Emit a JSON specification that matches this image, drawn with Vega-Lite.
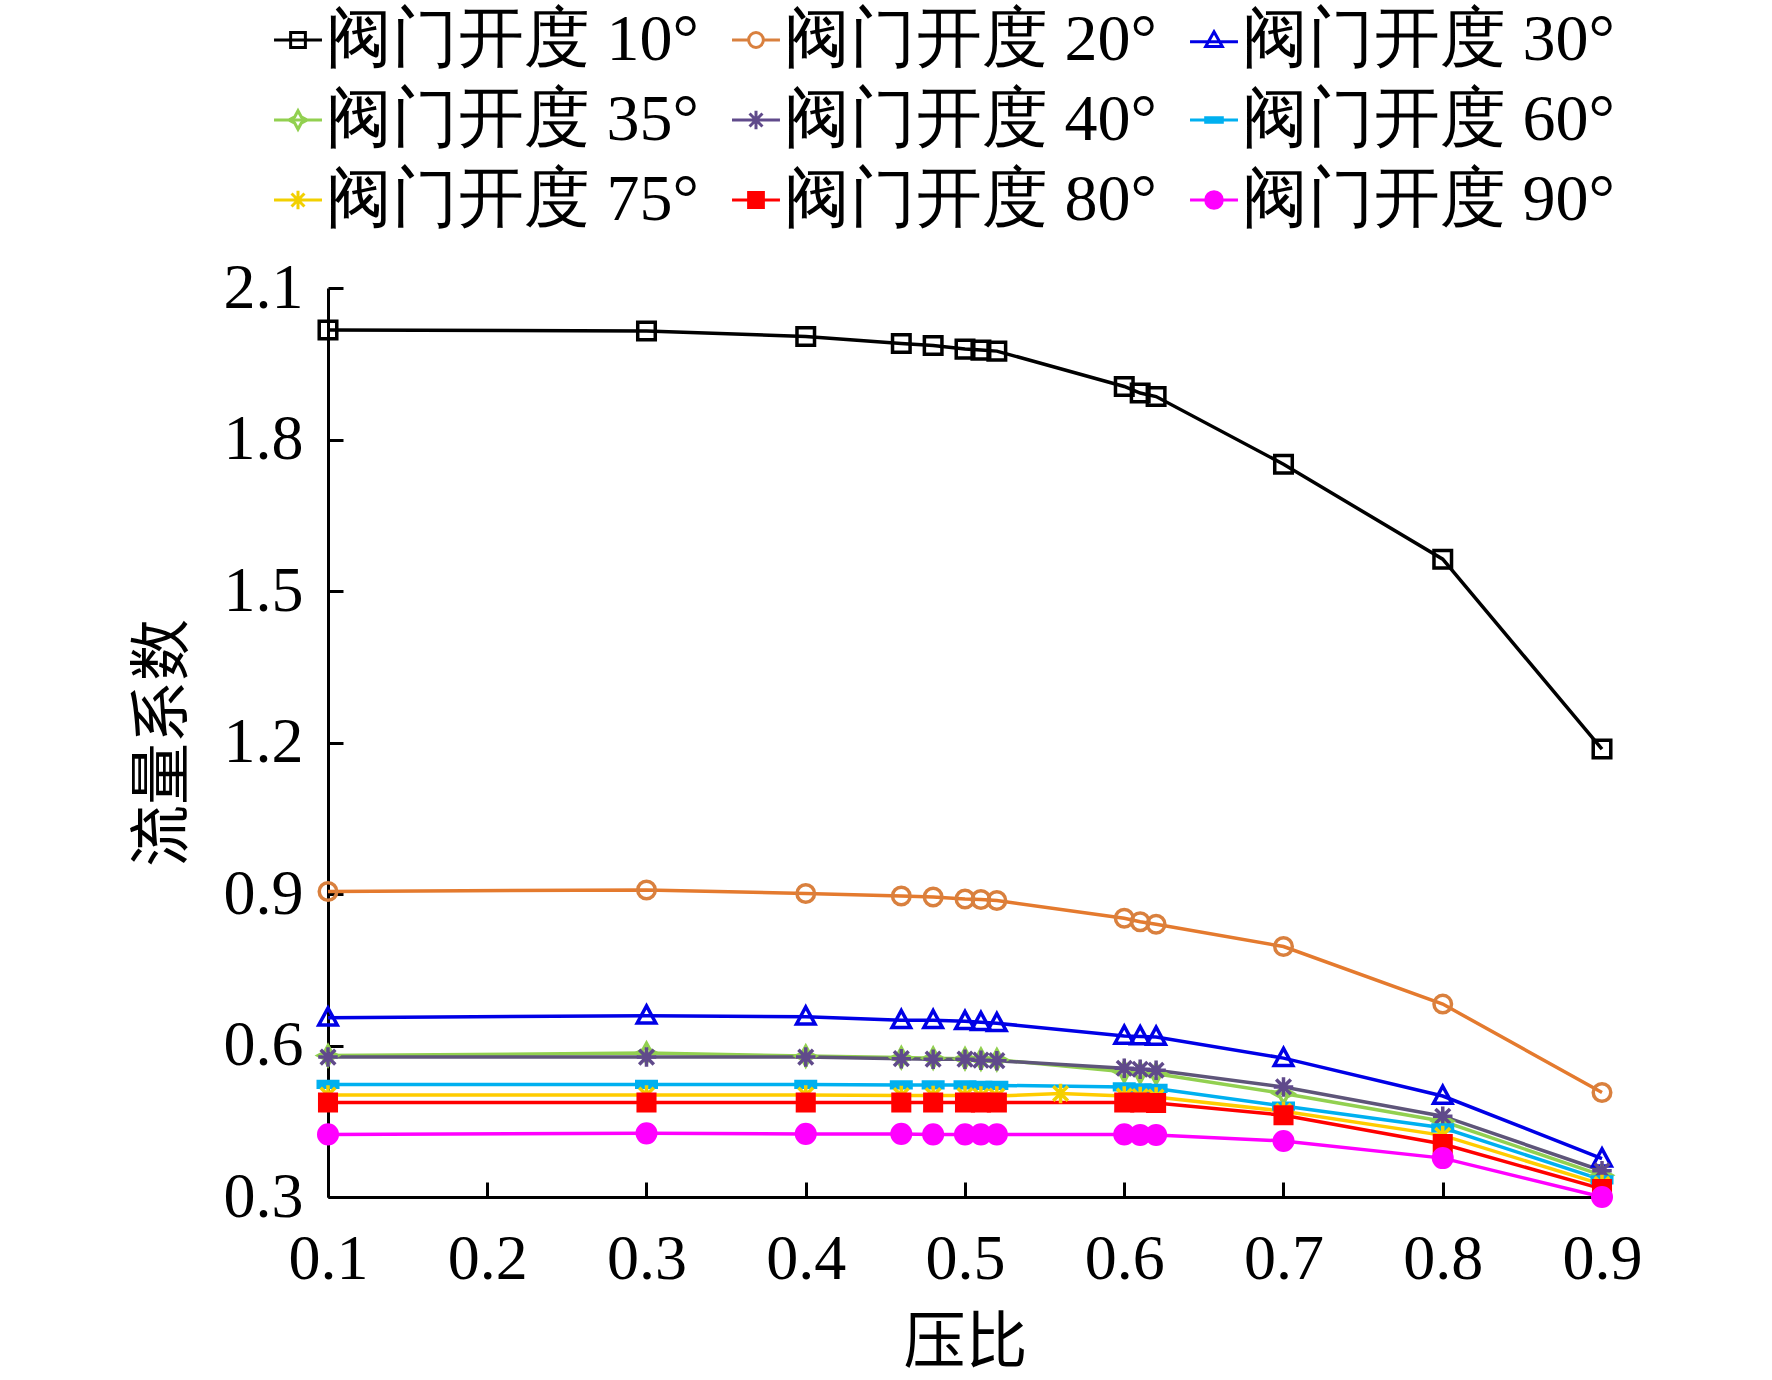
{
  "$schema": "https://vega.github.io/schema/vega-lite/v6.json",
  "autosize": "none",
  "padding": {"left": 328, "top": 288, "right": 170, "bottom": 183},
  "width": 1274,
  "height": 909,
  "background": "white",
  "data": {
    "values": [
      {"series": "阀门开度 10°", "x": 0.1, "y": 2.017},
      {"series": "阀门开度 10°", "x": 0.3, "y": 2.015},
      {"series": "阀门开度 10°", "x": 0.4, "y": 2.004},
      {"series": "阀门开度 10°", "x": 0.46, "y": 1.99},
      {"series": "阀门开度 10°", "x": 0.48, "y": 1.986},
      {"series": "阀门开度 10°", "x": 0.5, "y": 1.979},
      {"series": "阀门开度 10°", "x": 0.51, "y": 1.977},
      {"series": "阀门开度 10°", "x": 0.52, "y": 1.975},
      {"series": "阀门开度 10°", "x": 0.6, "y": 1.905},
      {"series": "阀门开度 10°", "x": 0.61, "y": 1.892},
      {"series": "阀门开度 10°", "x": 0.62, "y": 1.885},
      {"series": "阀门开度 10°", "x": 0.7, "y": 1.751},
      {"series": "阀门开度 10°", "x": 0.8, "y": 1.563},
      {"series": "阀门开度 10°", "x": 0.9, "y": 1.187},

      {"series": "阀门开度 20°", "x": 0.1, "y": 0.905},
      {"series": "阀门开度 20°", "x": 0.3, "y": 0.908},
      {"series": "阀门开度 20°", "x": 0.4, "y": 0.901},
      {"series": "阀门开度 20°", "x": 0.46, "y": 0.896},
      {"series": "阀门开度 20°", "x": 0.48, "y": 0.894},
      {"series": "阀门开度 20°", "x": 0.5, "y": 0.89},
      {"series": "阀门开度 20°", "x": 0.51, "y": 0.889},
      {"series": "阀门开度 20°", "x": 0.52, "y": 0.887},
      {"series": "阀门开度 20°", "x": 0.6, "y": 0.852},
      {"series": "阀门开度 20°", "x": 0.61, "y": 0.845},
      {"series": "阀门开度 20°", "x": 0.62, "y": 0.84},
      {"series": "阀门开度 20°", "x": 0.7, "y": 0.796},
      {"series": "阀门开度 20°", "x": 0.8, "y": 0.682},
      {"series": "阀门开度 20°", "x": 0.9, "y": 0.507},

      {"series": "阀门开度 30°", "x": 0.1, "y": 0.655},
      {"series": "阀门开度 30°", "x": 0.3, "y": 0.659},
      {"series": "阀门开度 30°", "x": 0.4, "y": 0.657},
      {"series": "阀门开度 30°", "x": 0.46, "y": 0.65},
      {"series": "阀门开度 30°", "x": 0.48, "y": 0.65},
      {"series": "阀门开度 30°", "x": 0.5, "y": 0.648},
      {"series": "阀门开度 30°", "x": 0.51, "y": 0.646},
      {"series": "阀门开度 30°", "x": 0.52, "y": 0.644},
      {"series": "阀门开度 30°", "x": 0.6, "y": 0.619},
      {"series": "阀门开度 30°", "x": 0.61, "y": 0.618},
      {"series": "阀门开度 30°", "x": 0.62, "y": 0.617},
      {"series": "阀门开度 30°", "x": 0.7, "y": 0.575},
      {"series": "阀门开度 30°", "x": 0.8, "y": 0.5},
      {"series": "阀门开度 30°", "x": 0.9, "y": 0.376},

      {"series": "阀门开度 35°", "x": 0.1, "y": 0.58},
      {"series": "阀门开度 35°", "x": 0.3, "y": 0.585},
      {"series": "阀门开度 35°", "x": 0.4, "y": 0.579},
      {"series": "阀门开度 35°", "x": 0.46, "y": 0.576},
      {"series": "阀门开度 35°", "x": 0.48, "y": 0.575},
      {"series": "阀门开度 35°", "x": 0.5, "y": 0.574},
      {"series": "阀门开度 35°", "x": 0.51, "y": 0.573},
      {"series": "阀门开度 35°", "x": 0.52, "y": 0.572},
      {"series": "阀门开度 35°", "x": 0.6, "y": 0.548},
      {"series": "阀门开度 35°", "x": 0.61, "y": 0.546},
      {"series": "阀门开度 35°", "x": 0.62, "y": 0.544},
      {"series": "阀门开度 35°", "x": 0.7, "y": 0.505},
      {"series": "阀门开度 35°", "x": 0.8, "y": 0.45},
      {"series": "阀门开度 35°", "x": 0.9, "y": 0.343},

      {"series": "阀门开度 40°", "x": 0.1, "y": 0.577},
      {"series": "阀门开度 40°", "x": 0.3, "y": 0.577},
      {"series": "阀门开度 40°", "x": 0.4, "y": 0.577},
      {"series": "阀门开度 40°", "x": 0.46, "y": 0.574},
      {"series": "阀门开度 40°", "x": 0.48, "y": 0.573},
      {"series": "阀门开度 40°", "x": 0.5, "y": 0.573},
      {"series": "阀门开度 40°", "x": 0.51, "y": 0.571},
      {"series": "阀门开度 40°", "x": 0.52, "y": 0.57},
      {"series": "阀门开度 40°", "x": 0.6, "y": 0.555},
      {"series": "阀门开度 40°", "x": 0.61, "y": 0.553},
      {"series": "阀门开度 40°", "x": 0.62, "y": 0.551},
      {"series": "阀门开度 40°", "x": 0.7, "y": 0.518},
      {"series": "阀门开度 40°", "x": 0.8, "y": 0.46},
      {"series": "阀门开度 40°", "x": 0.9, "y": 0.352},

      {"series": "阀门开度 60°", "x": 0.1, "y": 0.523},
      {"series": "阀门开度 60°", "x": 0.3, "y": 0.523},
      {"series": "阀门开度 60°", "x": 0.4, "y": 0.523},
      {"series": "阀门开度 60°", "x": 0.46, "y": 0.522},
      {"series": "阀门开度 60°", "x": 0.48, "y": 0.522},
      {"series": "阀门开度 60°", "x": 0.5, "y": 0.522},
      {"series": "阀门开度 60°", "x": 0.51, "y": 0.521},
      {"series": "阀门开度 60°", "x": 0.52, "y": 0.521},
      {"series": "阀门开度 60°", "x": 0.6, "y": 0.518},
      {"series": "阀门开度 60°", "x": 0.61, "y": 0.516},
      {"series": "阀门开度 60°", "x": 0.62, "y": 0.515},
      {"series": "阀门开度 60°", "x": 0.7, "y": 0.48},
      {"series": "阀门开度 60°", "x": 0.8, "y": 0.437},
      {"series": "阀门开度 60°", "x": 0.9, "y": 0.334},

      {"series": "阀门开度 75°", "x": 0.1, "y": 0.502},
      {"series": "阀门开度 75°", "x": 0.3, "y": 0.502},
      {"series": "阀门开度 75°", "x": 0.4, "y": 0.502},
      {"series": "阀门开度 75°", "x": 0.46, "y": 0.501},
      {"series": "阀门开度 75°", "x": 0.48, "y": 0.501},
      {"series": "阀门开度 75°", "x": 0.5, "y": 0.501},
      {"series": "阀门开度 75°", "x": 0.51, "y": 0.5},
      {"series": "阀门开度 75°", "x": 0.52, "y": 0.5},
      {"series": "阀门开度 75°", "x": 0.56, "y": 0.505},
      {"series": "阀门开度 75°", "x": 0.6, "y": 0.5},
      {"series": "阀门开度 75°", "x": 0.61, "y": 0.499},
      {"series": "阀门开度 75°", "x": 0.62, "y": 0.498},
      {"series": "阀门开度 75°", "x": 0.7, "y": 0.47},
      {"series": "阀门开度 75°", "x": 0.8, "y": 0.422},
      {"series": "阀门开度 75°", "x": 0.9, "y": 0.325},

      {"series": "阀门开度 80°", "x": 0.1, "y": 0.487},
      {"series": "阀门开度 80°", "x": 0.3, "y": 0.487},
      {"series": "阀门开度 80°", "x": 0.4, "y": 0.487},
      {"series": "阀门开度 80°", "x": 0.46, "y": 0.487},
      {"series": "阀门开度 80°", "x": 0.48, "y": 0.487},
      {"series": "阀门开度 80°", "x": 0.5, "y": 0.487},
      {"series": "阀门开度 80°", "x": 0.51, "y": 0.487},
      {"series": "阀门开度 80°", "x": 0.52, "y": 0.487},
      {"series": "阀门开度 80°", "x": 0.6, "y": 0.487},
      {"series": "阀门开度 80°", "x": 0.61, "y": 0.487},
      {"series": "阀门开度 80°", "x": 0.62, "y": 0.486},
      {"series": "阀门开度 80°", "x": 0.7, "y": 0.462},
      {"series": "阀门开度 80°", "x": 0.8, "y": 0.405},
      {"series": "阀门开度 80°", "x": 0.9, "y": 0.316},

      {"series": "阀门开度 90°", "x": 0.1, "y": 0.424},
      {"series": "阀门开度 90°", "x": 0.3, "y": 0.426},
      {"series": "阀门开度 90°", "x": 0.4, "y": 0.425},
      {"series": "阀门开度 90°", "x": 0.46, "y": 0.425},
      {"series": "阀门开度 90°", "x": 0.48, "y": 0.424},
      {"series": "阀门开度 90°", "x": 0.5, "y": 0.424},
      {"series": "阀门开度 90°", "x": 0.51, "y": 0.424},
      {"series": "阀门开度 90°", "x": 0.52, "y": 0.424},
      {"series": "阀门开度 90°", "x": 0.6, "y": 0.424},
      {"series": "阀门开度 90°", "x": 0.61, "y": 0.423},
      {"series": "阀门开度 90°", "x": 0.62, "y": 0.423},
      {"series": "阀门开度 90°", "x": 0.7, "y": 0.411},
      {"series": "阀门开度 90°", "x": 0.8, "y": 0.377},
      {"series": "阀门开度 90°", "x": 0.9, "y": 0.3}
    ]
  },
  "encoding": {
    "x": {
      "field": "x",
      "type": "quantitative",
      "scale": {"domain": [0.1, 0.9], "nice": false, "zero": false},
      "axis": {
        "title": "压比",
        "values": [0.1, 0.2, 0.3, 0.4, 0.5, 0.6, 0.7, 0.8, 0.9],
        "format": ".1f",
        "labelFlush": false,
        "labelPadding": 45,
        "titlePadding": 22
      }
    },
    "y": {
      "field": "y",
      "type": "quantitative",
      "scale": {"domain": [0.3, 2.1], "nice": false, "zero": false},
      "axis": {
        "title": "流量系数",
        "values": [0.3, 0.6, 0.9, 1.2, 1.5, 1.8, 2.1],
        "format": ".1f",
        "labelFlush": false,
        "labelPadding": 40,
        "titlePadding": 28
      }
    }
  },
  "layer": [
    {
      "mark": {"type": "line", "strokeWidth": 3.5},
      "encoding": {
        "detail": {"field": "series"},
        "stroke": {
          "field": "series",
          "type": "nominal",
          "legend": null,
          "scale": {
            "domain": ["阀门开度 10°", "阀门开度 20°", "阀门开度 30°", "阀门开度 35°", "阀门开度 40°", "阀门开度 60°", "阀门开度 75°", "阀门开度 80°", "阀门开度 90°"],
            "range": ["#000000", "#E47A2E", "#0000E6", "#92D050", "#5E5579", "#00B0F0", "#FFCC00", "#FF0000", "#FF00FF"]
          }
        }
      }
    },
    {
      "mark": {"type": "point", "strokeWidth": 3.5, "size": 380, "opacity": 1},
      "encoding": {
        "stroke": {
          "field": "series",
          "type": "nominal",
          "legend": null,
          "scale": {
            "domain": ["阀门开度 10°", "阀门开度 20°", "阀门开度 30°", "阀门开度 35°", "阀门开度 40°", "阀门开度 60°", "阀门开度 75°", "阀门开度 80°", "阀门开度 90°"],
            "range": ["#000000", "#D9803E", "#0000E6", "#92D050", "#604A8B", "#00B0F0", "#F2D000", "#FF0000", "#FF00FF"]
          }
        },
        "fill": {
          "field": "series",
          "type": "nominal",
          "legend": null,
          "scale": {
            "domain": ["阀门开度 10°", "阀门开度 20°", "阀门开度 30°", "阀门开度 35°", "阀门开度 40°", "阀门开度 60°", "阀门开度 75°", "阀门开度 80°", "阀门开度 90°"],
            "range": ["transparent", "transparent", "transparent", "transparent", "transparent", "#00B0F0", "transparent", "#FF0000", "#FF00FF"]
          }
        },
        "shape": {
          "field": "series",
          "type": "nominal",
          "legend": null,
          "scale": {
            "domain": ["阀门开度 10°", "阀门开度 20°", "阀门开度 30°", "阀门开度 35°", "阀门开度 40°", "阀门开度 60°", "阀门开度 75°", "阀门开度 80°", "阀门开度 90°"],
            "range": [
              "M-0.9,-0.9H0.9V0.9H-0.9Z",
              "M0.9,0A0.9,0.9 0 1,1 -0.9,0A0.9,0.9 0 1,1 0.9,0Z",
              "M0,-1L0.95,0.75H-0.95Z",
              "M0,-1L0.35,-0.35L1,0L0.35,0.35L0,1L-0.35,0.35L-1,0L-0.35,-0.35Z",
              "M-0.75,-0.75L0.75,0.75M-0.75,0.75L0.75,-0.75M0,-1V1M-1,0H1",
              "M-1,-0.3H1V0.3H-1Z",
              "M-0.75,-0.75L0.75,0.75M-0.75,0.75L0.75,-0.75M0,-1V1",
              "M-0.85,-0.85H0.85V0.85H-0.85Z",
              "M0.95,0A0.95,0.95 0 1,1 -0.95,0A0.95,0.95 0 1,1 0.95,0Z"
            ]
          }
        }
      }
    },
    {
      "transform": [{"filter": "datum.x < 0"}],
      "mark": {"type": "point", "strokeWidth": 3, "size": 340, "opacity": 1},
      "encoding": {
        "stroke": {
          "field": "series",
          "type": "nominal",
          "title": null,
          "scale": {
            "domain": ["阀门开度 10°", "阀门开度 20°", "阀门开度 30°", "阀门开度 35°", "阀门开度 40°", "阀门开度 60°", "阀门开度 75°", "阀门开度 80°", "阀门开度 90°"],
            "range": ["#000000", "#D9803E", "#0000E6", "#92D050", "#604A8B", "#00B0F0", "#F2D000", "#FF0000", "#FF00FF"]
          }
        },
        "fill": {
          "field": "series",
          "type": "nominal",
          "title": null,
          "scale": {
            "domain": ["阀门开度 10°", "阀门开度 20°", "阀门开度 30°", "阀门开度 35°", "阀门开度 40°", "阀门开度 60°", "阀门开度 75°", "阀门开度 80°", "阀门开度 90°"],
            "range": ["transparent", "transparent", "transparent", "transparent", "transparent", "#00B0F0", "transparent", "#FF0000", "#FF00FF"]
          }
        },
        "shape": {
          "field": "series",
          "type": "nominal",
          "title": null,
          "scale": {
            "domain": ["阀门开度 10°", "阀门开度 20°", "阀门开度 30°", "阀门开度 35°", "阀门开度 40°", "阀门开度 60°", "阀门开度 75°", "阀门开度 80°", "阀门开度 90°"],
            "range": [
              "M-2.6,0H2.6M-0.8,-0.8H0.8V0.8H-0.8Z",
              "M-2.6,0H-0.8M0.8,0H2.6M0.8,0A0.8,0.8 0 1,1 -0.8,0A0.8,0.8 0 1,1 0.8,0Z",
              "M-2.6,0.2H2.6M0,-0.9L0.9,0.7H-0.9Z",
              "M-2.6,0H2.6M0,-1L0.35,-0.35L1,0L0.35,0.35L0,1L-0.35,0.35L-1,0L-0.35,-0.35Z",
              "M-2.6,0H2.6M-0.7,-0.7L0.7,0.7M-0.7,0.7L0.7,-0.7M0,-1V1",
              "M-2.6,0H2.6M-0.9,-0.25H0.9V0.25H-0.9Z",
              "M-2.6,0H2.6M-0.7,-0.7L0.7,0.7M-0.7,0.7L0.7,-0.7M0,-1V1",
              "M-2.6,0H2.6M-0.8,-0.8H0.8V0.8H-0.8Z",
              "M-2.6,0H2.6M0.9,0A0.9,0.9 0 1,1 -0.9,0A0.9,0.9 0 1,1 0.9,0Z"
            ]
          },
          "legend": {
            "orient": "none",
            "legendX": -78,
            "legendY": -281,
            "columns": 3,
            "direction": "horizontal",
            "symbolSize": 340,
            "symbolStrokeWidth": 3,
            "symbolOffset": 15,
            "labelOffset": -5,
            "labelFontSize": 66,
            "labelFont": "Liberation Serif",
            "labelColor": "black",
            "labelLimit": 0,
            "columnPadding": 9,
            "rowPadding": 14
          }
        }
      }
    }
  ],
  "resolve": {"scale": {"stroke": "independent", "fill": "independent", "shape": "independent"}},
  "config": {
    "font": "Liberation Serif",
    "view": {"stroke": null},
    "axis": {
      "grid": false,
      "domainColor": "black",
      "domainWidth": 3,
      "tickColor": "black",
      "tickWidth": 3,
      "tickSize": -15,
      "labelFont": "Liberation Serif",
      "labelFontSize": 64,
      "labelColor": "black",
      "titleFont": "Noto Sans CJK SC",
      "titleFontSize": 62,
      "titleFontWeight": "normal",
      "titleColor": "black"
    }
  }
}
